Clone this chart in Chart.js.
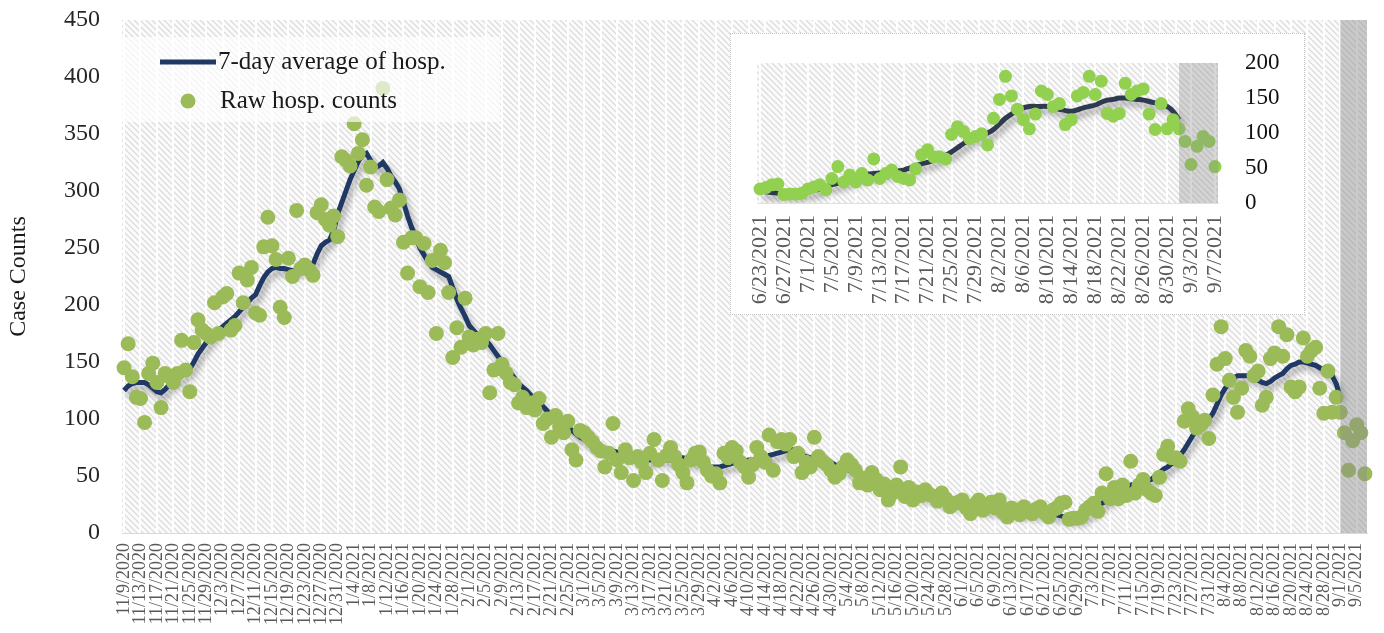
<!DOCTYPE html>
<html>
<head>
<meta charset="utf-8">
<script src="https://cdn.jsdelivr.net/npm/chart.js@4.4.0/dist/chart.umd.min.js"></script>
<style>
  body { margin: 0; background: #fff; }
  #wrap { position: relative; width: 1384px; height: 633px; }
  #insetBox { position: absolute; left: 730px; top: 33px; width: 575px; height: 282px;
              background: #fff; border: 1px dotted #c4c4c4; box-sizing: border-box; }
</style>
</head>
<body>
<div id="wrap">
  <canvas id="mainChart" width="1384" height="633"></canvas>
  <div id="insetBox"><canvas id="insetChart" width="573" height="280"></canvas></div>
</div>
<script>
// dates run daily from 11/9/2020
const firstDay = new Date(2020, 10, 9);
const dayCount = 303;
const dateLabels = [];
for (let i = 0; i < dayCount; i++) {
    const d = new Date(firstDay.getFullYear(), firstDay.getMonth(), firstDay.getDate() + i);
    dateLabels.push((d.getMonth() + 1) + '/' + d.getDate() + '/' + d.getFullYear());
}

const rawCounts = [
    145,166,137,119,118,97,140,149,132,110,
    140,137,132,140,169,143,124,167,187,178,
    175,172,202,175,207,210,178,182,228,202,
    222,233,193,191,251,277,252,240,198,189,
    241,225,283,232,235,231,226,281,288,275,
    270,278,260,330,327,322,359,333,345,305,
    321,286,282,390,310,285,279,292,255,228,
    259,259,216,254,211,239,175,248,237,211,
    154,180,163,206,172,165,170,167,175,123,
    143,175,148,140,132,130,114,119,110,114,
    108,118,96,100,84,103,93,88,98,73,
    64,90,88,84,80,75,72,58,70,96,
    64,53,73,66,46,67,62,53,70,82,
    64,46,68,75,67,60,53,44,64,70,
    71,62,55,50,52,44,70,66,75,72,
    62,58,49,60,75,67,62,86,55,80,
    82,78,82,67,70,53,62,58,84,67,
    63,60,55,49,52,58,64,60,55,44,
    48,42,53,47,38,43,29,35,42,58,
    32,40,29,36,33,38,34,32,28,35,
    30,23,26,27,29,22,17,25,29,20,
    23,27,22,29,18,14,22,20,16,23,
    19,17,21,23,18,14,20,22,26,27,
    12,13,13,14,20,23,26,19,35,52,
    30,40,30,42,33,63,35,42,47,38,
    35,33,49,69,76,66,66,63,98,109,
    102,92,95,99,83,121,148,181,153,134,
    119,106,127,160,155,138,142,112,119,153,
    158,181,155,174,128,124,128,171,155,160,
    163,127,105,142,106,119,106,88,55,81,
    95,88,52
];

const avgCounts = [
    125,129,131,132,132,132,130,127,124,123,
    126,130,133,135,138,140,144,150,157,162,
    167,171,175,178,181,184,187,190,194,198,
    202,206,209,217,224,229,232,233,232,232,
    231,230,231,232,232,233,236,245,252,255,
    257,265,280,290,300,310,318,326,331,333,
    327,321,322,325,320,313,308,302,290,278,
    268,260,250,244,238,233,231,229,227,225,
    215,205,197,190,182,178,174,171,169,165,
    160,155,150,145,141,136,131,128,125,121,
    117,114,111,107,103,100,97,95,93,90,
    87,84,82,80,79,77,76,74,73,72,
    71,70,69,68,66,65,64,64,64,65,
    66,65,64,64,65,66,66,65,63,62,
    61,60,59,58,58,58,59,60,61,62,
    62,63,64,64,65,66,67,68,69,70,
    71,72,73,73,71,69,67,66,65,64,
    63,63,62,60,58,57,56,54,52,51,
    50,49,47,45,44,43,41,40,39,38,
    37,36,35,34,33,33,32,31,30,29,
    28,27,27,26,25,24,24,23,23,22,
    22,21,21,20,20,19,19,19,18,18,
    18,18,18,18,18,19,17,16,15,14,
    14,13,13,14,16,18,20,23,26,28,
    31,33,36,39,41,42,43,44,45,46,
    47,50,53,56,58,61,64,68,73,79,
    85,90,94,97,100,105,113,121,127,132,
    136,138,138,138,138,136,134,132,131,133,
    136,138,140,144,147,148,150,150,149,148,
    147,145,143,141,138,131,119,null,null,null,
    null,null,null
];

const mainTicks = [0, 50, 100, 150, 200, 250, 300, 350, 400, 450];
const insetTicks = [0, 50, 100, 150, 200];
const insetFrom = dateLabels.indexOf('6/23/2021');
const shadeFrom = dateLabels.indexOf('9/1/2021');

Chart.defaults.font.family = "'Liberation Serif', 'DejaVu Serif', serif";
Chart.defaults.animation = false;

function makeHatch() {
    const c = document.createElement('canvas');
    c.width = 6; c.height = 6;
    const g = c.getContext('2d');
    g.fillStyle = '#fbfbfb';
    g.fillRect(0, 0, 6, 6);
    g.strokeStyle = '#dcdcdc';
    g.lineWidth = 1.3;
    g.beginPath();
    g.moveTo(-1, -1); g.lineTo(7, 7);
    g.moveTo(-1, 5); g.lineTo(1, 7);
    g.moveTo(5, -1); g.lineTo(7, 1);
    g.stroke();
    return c;
}

const hatchBackground = {
    id: 'hatchBackground',
    beforeDraw(chart) {
        const { ctx, chartArea: a } = chart;
        ctx.save();
        ctx.fillStyle = ctx.createPattern(makeHatch(), 'repeat');
        ctx.fillRect(a.left, a.top, a.right - a.left, a.bottom - a.top);
        ctx.restore();
    }
};

const lineShadow = {
    id: 'lineShadow',
    beforeDatasetDraw(chart, args) {
        if (args.index !== 1) return;
        const ctx = chart.ctx;
        ctx.save();
        ctx.shadowColor = 'rgba(0,0,0,0.35)';
        ctx.shadowBlur = 6;
        ctx.shadowOffsetX = 3;
        ctx.shadowOffsetY = 5;
    },
    afterDatasetDraw(chart, args) {
        if (args.index !== 1) return;
        chart.ctx.restore();
    }
};

// grey band over the last (incomplete) days
function shadeBand(startIdx, color) {
    return {
        id: 'shadeBand',
        afterDatasetsDraw(chart) {
            const { ctx, chartArea: a, scales } = chart;
            const x0 = scales.x.getPixelForValue(startIdx);
            ctx.save();
            ctx.fillStyle = color;
            ctx.fillRect(x0, a.top, a.right - x0, a.bottom - a.top);
            ctx.restore();
        }
    };
}

const mainLegend = {
    id: 'mainLegend',
    afterDraw(chart) {
        const ctx = chart.ctx;
        ctx.save();
        ctx.fillStyle = 'rgba(255,255,255,0.68)';
        ctx.fillRect(122, 37, 378, 85);
        ctx.strokeStyle = '#1F3864';
        ctx.lineWidth = 5;
        ctx.beginPath();
        ctx.moveTo(160, 62); ctx.lineTo(216, 62);
        ctx.stroke();
        ctx.fillStyle = '#9BBB59';
        ctx.beginPath();
        ctx.arc(188, 101, 7.5, 0, Math.PI * 2);
        ctx.fill();
        ctx.fillStyle = '#1a1a1a';
        ctx.font = "25px 'Liberation Serif'";
        ctx.textBaseline = 'middle';
        ctx.fillText('7-day average of hosp.', 218, 62);
        ctx.fillText('Raw hosp. counts', 220, 101);
        ctx.restore();
    }
};

function everyFourth(labels) {
    return function (value, index) {
        return index % 4 === 0 ? labels[index] : '';
    };
}

// label overflow should not push the plot area around
function noOverflow(s) {
    s.paddingTop = 0; s.paddingBottom = 0;
    s.paddingLeft = 0; s.paddingRight = 0;
}

new Chart(document.getElementById('mainChart'), {
    type: 'line',
    data: {
        labels: dateLabels,
        datasets: [{
            label: 'Raw hosp. counts',
            data: rawCounts,
            showLine: false,
            pointRadius: 7.5,
            pointBackgroundColor: '#9BBB59',
            pointBorderWidth: 0,
            order: 0
        }, {
            label: '7-day average of hosp.',
            data: avgCounts,
            borderColor: '#1F3864',
            borderWidth: 5,
            pointRadius: 0,
            tension: 0,
            order: 1
        }]
    },
    options: {
        responsive: false,
        layout: { padding: { left: 4, top: 20, right: 17, bottom: 0 } },
        plugins: { legend: { display: false }, tooltip: { enabled: false } },
        scales: {
            x: {
                offset: true,
                grid: {
                    offset: false,
                    drawTicks: false,
                    lineWidth: 2,
                    color: (c) => c.index % 4 === 0 ? 'rgba(255,255,255,0.95)' : 'rgba(0,0,0,0)'
                },
                border: { color: '#d9d9d9' },
                ticks: {
                    autoSkip: false,
                    minRotation: 90,
                    maxRotation: 90,
                    padding: 10,
                    color: '#595959',
                    font: { size: 18 },
                    callback: everyFourth(dateLabels)
                },
                afterFit: (s) => { s.height = 100; noOverflow(s); }
            },
            y: {
                min: 0,
                max: 450,
                afterBuildTicks: (s) => { s.ticks = mainTicks.map(v => ({ value: v })); },
                grid: { display: false, drawTicks: false },
                border: { display: false },
                ticks: { padding: 22, color: '#262626', font: { size: 24 } },
                title: { display: true, text: 'Case Counts', color: '#1a1a1a', font: { size: 24 }, padding: 0 },
                afterFit: (s) => { s.width = 118; noOverflow(s); }
            }
        }
    },
    plugins: [hatchBackground, lineShadow, shadeBand(shadeFrom, 'rgba(140,140,140,0.45)'), mainLegend]
});

const insetLabels = dateLabels.slice(insetFrom);

new Chart(document.getElementById('insetChart'), {
    type: 'line',
    data: {
        labels: insetLabels,
        datasets: [{
            label: 'Raw hosp. counts',
            data: rawCounts.slice(insetFrom),
            showLine: false,
            pointRadius: 6.5,
            pointBackgroundColor: '#92D050',
            pointBorderWidth: 0,
            order: 0
        }, {
            label: '7-day average of hosp.',
            data: avgCounts.slice(insetFrom),
            borderColor: '#2E3B4E',
            borderWidth: 5,
            pointRadius: 0,
            tension: 0.3,
            order: 1
        }]
    },
    options: {
        responsive: false,
        layout: { padding: { left: 26, top: 29, right: 0, bottom: 0 } },
        plugins: { legend: { display: false }, tooltip: { enabled: false } },
        scales: {
            x: {
                offset: true,
                grid: {
                    offset: false,
                    drawTicks: false,
                    lineWidth: 2,
                    color: (c) => c.index % 4 === 0 ? 'rgba(255,255,255,0.95)' : 'rgba(0,0,0,0)'
                },
                border: { color: '#e0e0e0' },
                ticks: {
                    autoSkip: false,
                    minRotation: 90,
                    maxRotation: 90,
                    padding: 12,
                    color: '#595959',
                    font: { size: 22 },
                    callback: everyFourth(insetLabels)
                },
                afterFit: (s) => { s.height = 111; noOverflow(s); }
            },
            y: {
                position: 'right',
                min: 0,
                max: 200,
                afterBuildTicks: (s) => { s.ticks = insetTicks.map(v => ({ value: v })); },
                grid: { display: false, drawTicks: false },
                border: { display: false },
                ticks: { padding: 27, color: '#111', font: { size: 23 } },
                afterFit: (s) => { s.width = 86; noOverflow(s); }
            }
        }
    },
    plugins: [hatchBackground, lineShadow, shadeBand(shadeFrom - insetFrom, 'rgba(140,140,140,0.35)')]
});
</script>
</body>
</html>
